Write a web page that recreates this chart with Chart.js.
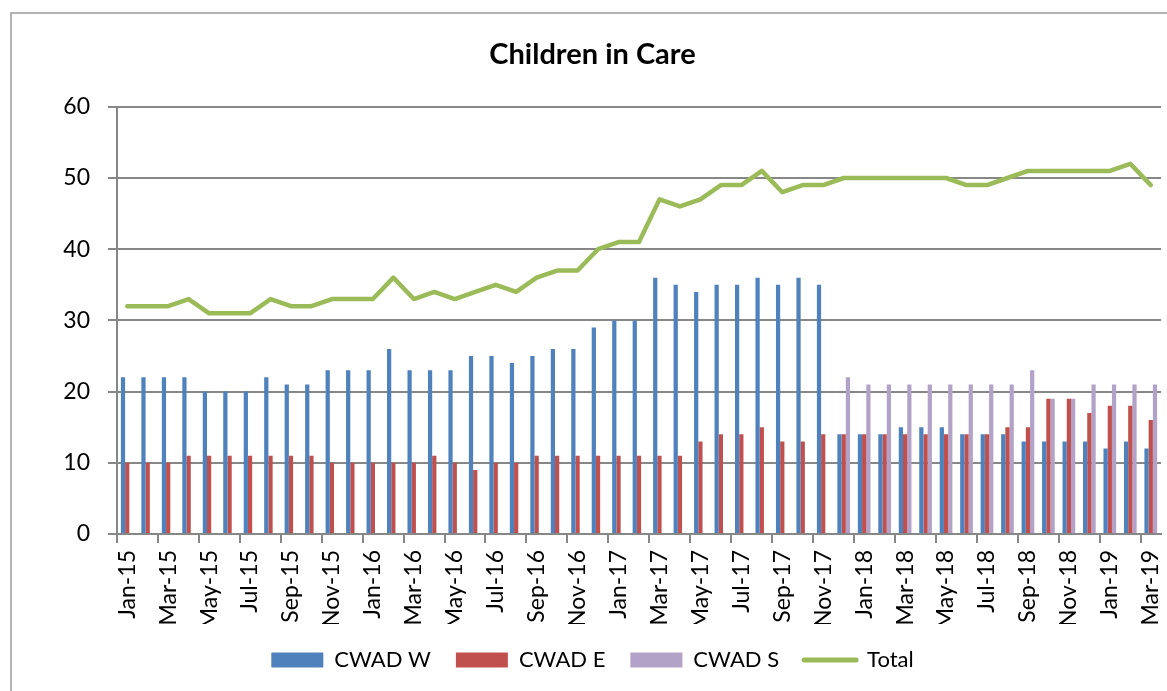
<!DOCTYPE html>
<html>
<head>
<meta charset="utf-8">
<script src="https://cdn.jsdelivr.net/npm/chart.js@4.4.0/dist/chart.umd.min.js"></script>
<style>
html,body{margin:0;padding:0;background:#fff;overflow:hidden}
#wrap{position:relative;width:1167px;height:691px}
</style>
</head>
<body>
<div id="wrap"><canvas id="c" width="1167" height="691"></canvas></div>
<script>
const months = ['Jan-15','Feb-15','Mar-15','Apr-15','May-15','Jun-15','Jul-15','Aug-15','Sep-15','Oct-15','Nov-15','Dec-15',
 'Jan-16','Feb-16','Mar-16','Apr-16','May-16','Jun-16','Jul-16','Aug-16','Sep-16','Oct-16','Nov-16','Dec-16',
 'Jan-17','Feb-17','Mar-17','Apr-17','May-17','Jun-17','Jul-17','Aug-17','Sep-17','Oct-17','Nov-17','Dec-17',
 'Jan-18','Feb-18','Mar-18','Apr-18','May-18','Jun-18','Jul-18','Aug-18','Sep-18','Oct-18','Nov-18','Dec-18',
 'Jan-19','Feb-19','Mar-19'];
const tickLabels = ['Jan-15','Mar-15','May-15','Jul-15','Sep-15','Nov-15','Jan-16','Mar-16','May-16','Jul-16','Sep-16','Nov-16',
 'Jan-17','Mar-17','May-17','Jul-17','Sep-17','Nov-17','Jan-18','Mar-18','May-18','Jul-18','Sep-18','Nov-18','Jan-19','Mar-19'];
const cwadW = [22,22,22,22,20,20,20,22,21,21,23,23,
 23,26,23,23,23,25,25,24,25,26,26,29,
 30,30,36,35,34,35,35,36,35,36,35,14,
 14,14,15,15,15,14,14,14,13,13,13,13,
 12,13,12];
const cwadE = [10,10,10,11,11,11,11,11,11,11,10,10,
 10,10,10,11,10,9,10,10,11,11,11,11,
 11,11,11,11,13,14,14,15,13,13,14,14,
 14,14,14,14,14,14,14,15,15,19,19,17,
 18,18,16];
const cwadS = [null,null,null,null,null,null,null,null,null,null,null,null,
 null,null,null,null,null,null,null,null,null,null,null,null,
 null,null,null,null,null,null,null,null,null,null,null,22,
 21,21,21,21,21,21,21,21,23,19,19,21,
 21,21,21];
const total = [32,32,32,33,31,31,31,33,32,32,33,33,
 33,36,33,34,33,34,35,34,36,37,37,40,
 41,41,47,46,47,49,49,51,48,49,49,50,
 50,50,50,50,50,49,49,50,51,51,51,51,
 51,52,49];
const yTicks = [0,10,20,30,40,50,60];

const FONT = 'Lato, "DejaVu Sans", sans-serif';
const GRID = '#878787';
const C_W = '#4F81BD', C_E = '#C0504D', C_S = '#B3A2C7', C_T = '#9BBB59';

const frame = {
  id: 'frame',
  beforeDraw(chart) {
    const ctx = chart.ctx;
    ctx.save();
    ctx.fillStyle = '#fff';
    ctx.fillRect(0, 0, chart.width, chart.height);
    ctx.strokeStyle = '#9a9a9a';
    ctx.lineWidth = 1.5;
    ctx.strokeRect(11, 13, 1400, 1000);
    ctx.restore();
  }
};

new Chart(document.getElementById('c'), {
  type: 'bar',
  data: {
    labels: months,
    datasets: [
      {label: 'CWAD W', data: cwadW, backgroundColor: C_W, order: 1, categoryPercentage: 0.62, barPercentage: 1.0},
      {label: 'CWAD E', data: cwadE, backgroundColor: C_E, order: 1, categoryPercentage: 0.62, barPercentage: 1.0},
      {label: 'CWAD S', data: cwadS, backgroundColor: C_S, order: 1, categoryPercentage: 0.62, barPercentage: 1.0},
      {label: 'Total', type: 'line', data: total, borderColor: C_T, backgroundColor: C_T, borderWidth: 4.5,
       pointRadius: 0, tension: 0, order: 0, borderCapStyle: 'round', borderJoinStyle: 'round'}
    ]
  },
  options: {
    responsive: false,
    animation: false,
    devicePixelRatio: 1,
    layout: {padding: {left: 24, right: 6, top: 0, bottom: 10}},
    plugins: {
      title: {
        display: true, text: 'Children in Care', color: '#000',
        font: {family: FONT, size: 29, weight: 'bold'},
        padding: {top: 37, bottom: 35}
      },
      legend: {
        position: 'bottom',
        labels: {
          color: '#000',
          font: {family: FONT, size: 22},
          usePointStyle: true,
          pointStyleWidth: 52,
          boxHeight: 15,
          padding: 25,
          generateLabels(chart) {
            const items = Chart.defaults.plugins.legend.labels.generateLabels(chart);
            items.sort((a, b) => a.datasetIndex - b.datasetIndex);
            items.forEach((it) => {
              if (it.datasetIndex === 3) { it.pointStyle = 'line'; it.lineWidth = 5; it.lineCap = 'round'; it.strokeStyle = C_T; }
              else { it.pointStyle = 'rect'; it.lineWidth = 0; }
            });
            return items;
          }
        }
      },
      tooltip: {enabled: false}
    },
    scales: {
      x: {
        offset: true,
        grid: {
          offset: true, drawOnChartArea: false, drawTicks: true, tickLength: 9, lineWidth: 2,
          tickColor: (ctx) => (ctx.index % 2 === 0 ? GRID : 'rgba(0,0,0,0)')
        },
        border: {color: GRID, width: 2},
        ticks: {
          autoSkip: false, minRotation: 90, maxRotation: 90, padding: 7, color: '#000',
          font: {family: FONT, size: 23},
          callback: (v, i) => (tickLabels.includes(months[i]) ? months[i] : '')
        },
        afterFit(s) { s.height = 90; s.paddingLeft = 0; s.paddingRight = 0; }
      },
      y: {
        min: 0, max: 60,
        afterBuildTicks(s) { s.ticks = yTicks.map(v => ({value: v})); },
        grid: {color: GRID, lineWidth: 2, tickLength: 9},
        border: {color: GRID, width: 2},
        ticks: {padding: 18, color: '#000', font: {family: FONT, size: 23}},
        afterFit(s) { s.width = 93; s.paddingTop = 0; s.paddingBottom = 0; }
      }
    }
  },
  plugins: [frame]
});
</script>
</body>
</html>
